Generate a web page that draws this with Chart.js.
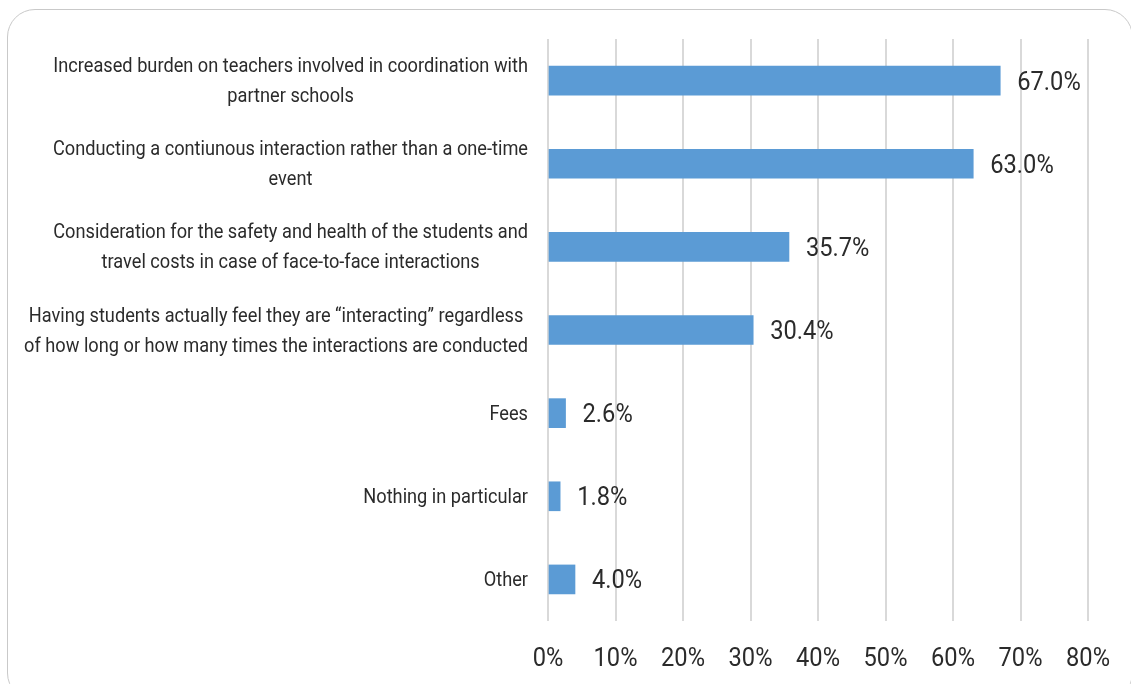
<!DOCTYPE html>
<html>
<head>
<meta charset="utf-8">
<script src="https://cdn.jsdelivr.net/npm/chart.js@4"></script>
<style>
  html, body { margin: 0; padding: 0; background: #fff; overflow: hidden; }
  #wrap { position: relative; width: 1131px; height: 684px; }
  #frame {
    position: absolute; left: 7px; top: 9px; width: 1126px; height: 692px;
    border: 1.5px solid #c9c9c9; border-radius: 28px; box-sizing: border-box;
  }
  #chart { position: absolute; left: 0; top: 0; }
</style>
</head>
<body>
<div id="wrap">
  <div id="frame"></div>
  <canvas id="chart" width="1131" height="684"></canvas>
</div>
<script>
const FONT = 'Roboto, "Liberation Sans", sans-serif'
const TEXT = '#2b2b2b'
const SQUEEZE = 0.91   // narrow the glyphs horizontally

const categories = [
  ['Increased burden on teachers involved in coordination with', 'partner schools'],
  ['Conducting a contiunous interaction rather than a one-time', 'event'],
  ['Consideration for the safety and health of the students and', 'travel costs in case of face-to-face interactions'],
  ['Having students actually feel they are \u201cinteracting\u201d regardless', 'of how long or how many times the interactions are conducted'],
  ['Fees'],
  ['Nothing in particular'],
  ['Other']
]
const values = [67.0, 63.0, 35.7, 30.4, 2.6, 1.8, 4.0]
const xTicks = [0, 10, 20, 30, 40, 50, 60, 70, 80]

function narrowText(ctx, text, x, y, align) {
  const w = ctx.measureText(text).width * SQUEEZE
  let left = x
  if (align === 'center') left = x - w / 2
  else if (align === 'right') left = x - w
  ctx.save()
  ctx.translate(left, y)
  ctx.scale(SQUEEZE, 1)
  ctx.textAlign = 'left'
  ctx.fillText(text, 0, 0)
  ctx.restore()
}

// category text: block right-aligned to the axis, lines centred inside the block
// plus the percent ticks under the x axis
const axisText = {
  id: 'axisText',
  afterDraw(chart) {
    const { ctx } = chart
    const y = chart.scales.y
    const x = chart.scales.x
    const right = y.right - 20
    const lineH = 30
    ctx.save()
    ctx.fillStyle = TEXT
    ctx.textBaseline = 'middle'
    ctx.font = '20px ' + FONT
    categories.forEach((lines, i) => {
      const blockW = Math.max(...lines.map(l => ctx.measureText(l).width)) * SQUEEZE
      const cx = right - blockW / 2
      const cy = y.getPixelForValue(i) + 1.5
      const top = cy - (lines.length - 1) * lineH / 2
      lines.forEach((l, j) => narrowText(ctx, l, cx, top + j * lineH, 'center'))
    })
    ctx.font = '26px ' + FONT
    xTicks.forEach(v => {
      narrowText(ctx, v + '%', x.getPixelForValue(v), x.top + 38, 'center')
    })
    ctx.restore()
  }
}

// value text to the right of each bar
const valueLabels = {
  id: 'valueLabels',
  afterDatasetsDraw(chart) {
    const { ctx } = chart
    const meta = chart.getDatasetMeta(0)
    ctx.save()
    ctx.font = '26px ' + FONT
    ctx.fillStyle = TEXT
    ctx.textBaseline = 'middle'
    meta.data.forEach((bar, i) => {
      narrowText(ctx, values[i].toFixed(1) + '%', bar.x + 17, bar.y + 2.5, 'left')
    })
    ctx.restore()
  }
}

new Chart(document.getElementById('chart'), {
  type: 'bar',
  data: {
    labels: categories.map(c => c.join(' ')),
    datasets: [{
      data: values,
      backgroundColor: '#5b9bd5',
      barThickness: 29
    }]
  },
  options: {
    indexAxis: 'y',
    responsive: false,
    animation: false,
    layout: { padding: { top: 39, right: 43, left: 0, bottom: 0 } },
    plugins: {
      legend: { display: false },
      tooltip: { enabled: false }
    },
    scales: {
      x: {
        min: 0,
        max: 80,
        afterBuildTicks: scale => { scale.ticks = xTicks.map(v => ({ value: v })) },
        afterFit: scale => { scale.height = 63 },
        grid: { color: '#d9d9d9', lineWidth: 2, drawTicks: false },
        border: { display: false },
        ticks: { display: false }
      },
      y: {
        afterFit: scale => { scale.width = 548 },
        grid: { display: false },
        border: { display: false },
        ticks: { display: false }
      }
    }
  },
  plugins: [axisText, valueLabels]
})
</script>
</body>
</html>
